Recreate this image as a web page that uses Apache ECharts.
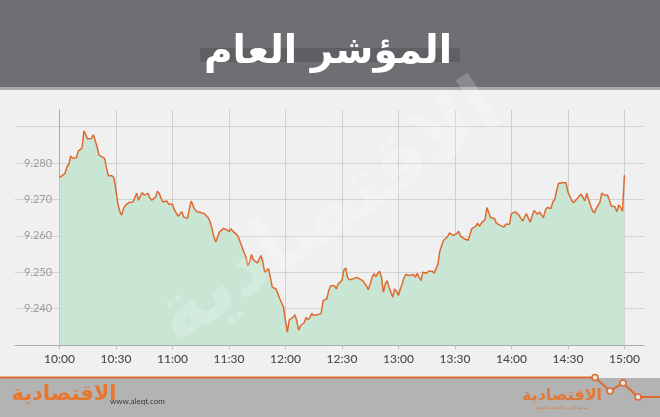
<!DOCTYPE html>
<html><head><meta charset="utf-8">
<script src="https://cdn.jsdelivr.net/npm/echarts@6/dist/echarts.min.js"></script>
<style>html,body{margin:0;padding:0;background:#f0f0f0}#c{width:660px;height:417px}</style>
</head><body><div id="c"></div>
<script>
// minutes after 10:00
const minutes = [0,1,3,4,5,6,7,9,10,11,12,13,14,15,16,17,18,19,20,21,22,24,25,26,27,28,29,30,31,32,33,34,35,36,37,39,40,41,42,43,44,45,46,47,48,49,51,52,53,54,55,57,58,59,60,61,63,64,65,66,67,68,69,70,71,72,73,75,76,77,78,79,80,81,82,83,84,85,87,88,89,90,91,92,93,94,95,96,97,98,99,100,101,102,103,105,106,107,108,109,110,111,112,113,115,116,117,118,119,120,121,122,123,124,125,126,127,128,129,130,131,132,133,134,135,136,137,139,140,141,142,143,144,145,146,147,148,149,150,151,152,153,154,155,156,158,159,161,162,163,164,165,166,167,168,169,170,171,172,173,174,175,176,177,178,179,180,181,182,183,184,185,186,188,189,190,191,192,193,194,195,196,197,198,199,200,201,202,203,204,205,206,207,208,209,210,211,212,213,214,215,216,217,218,219,220,221,222,223,224,225,226,227,228,229,230,231,232,233,234,236,237,238,239,240,241,242,243,244,245,246,247,248,249,250,251,252,253,254,255,256,257,258,259,260,261,262,263,264,265,266,267,268,269,270,271,272,273,274,275,276,277,278,279,280,281,282,283,284,285,286,287,288,289,290,291,292,293,294,295,296,297,298,299,300];
const values = [9.2760,9.2762,9.2772,9.2790,9.2797,9.2820,9.2813,9.2815,9.2833,9.2833,9.2841,9.2889,9.2878,9.2866,9.2864,9.2868,9.2878,9.2873,9.2845,9.2822,9.2818,9.2813,9.2786,9.2765,9.2762,9.2765,9.2758,9.2726,9.2689,9.2668,9.2657,9.2675,9.2684,9.2682,9.2692,9.2693,9.2695,9.2717,9.2698,9.2710,9.2719,9.2712,9.2710,9.2717,9.2704,9.2698,9.2706,9.2723,9.2717,9.2703,9.2693,9.2696,9.2687,9.2691,9.2687,9.2672,9.2654,9.2657,9.2666,9.2652,9.2650,9.2648,9.2675,9.2696,9.2682,9.2672,9.2666,9.2664,9.2669,9.2661,9.2657,9.2650,9.2638,9.2620,9.2597,9.2583,9.2597,9.2611,9.2620,9.2623,9.2617,9.2611,9.2620,9.2613,9.2615,9.2604,9.2597,9.2583,9.2569,9.2555,9.2542,9.2518,9.2528,9.2549,9.2534,9.2525,9.2528,9.2546,9.2528,9.2500,9.2496,9.2510,9.2486,9.2459,9.2454,9.2441,9.2427,9.2422,9.2404,9.2367,9.2335,9.2369,9.2367,9.2376,9.2383,9.2367,9.2341,9.2353,9.2358,9.2362,9.2376,9.2369,9.2376,9.2387,9.2381,9.2385,9.2383,9.2387,9.2422,9.2424,9.2427,9.2450,9.2463,9.2461,9.2463,9.2454,9.2468,9.2470,9.2477,9.2505,9.2512,9.2486,9.2479,9.2477,9.2482,9.2486,9.2486,9.2477,9.2473,9.2463,9.2452,9.2468,9.2486,9.2496,9.2488,9.2496,9.2503,9.2486,9.2445,9.2468,9.2477,9.2459,9.2445,9.2431,9.2454,9.2448,9.2436,9.2454,9.2468,9.2486,9.2494,9.2491,9.2491,9.2494,9.2486,9.2497,9.2486,9.2477,9.2500,9.2503,9.2497,9.2503,9.2500,9.2503,9.2497,9.2500,9.2523,9.2558,9.2574,9.2588,9.2583,9.2597,9.2608,9.2606,9.2601,9.2599,9.2606,9.2613,9.2599,9.2601,9.2592,9.2592,9.2588,9.2586,9.2620,9.2623,9.2626,9.2635,9.2626,9.2635,9.2635,9.2645,9.2678,9.2663,9.2650,9.2648,9.2648,9.2635,9.2634,9.2629,9.2624,9.2632,9.2635,9.2632,9.2661,9.2657,9.2666,9.2663,9.2657,9.2648,9.2641,9.2652,9.2661,9.2648,9.2638,9.2654,9.2670,9.2666,9.2659,9.2666,9.2657,9.2650,9.2670,9.2678,9.2680,9.2675,9.2693,9.2700,9.2724,9.2744,9.2742,9.2746,9.2751,9.2746,9.2721,9.2709,9.2698,9.2691,9.2696,9.2703,9.2709,9.2715,9.2715,9.2696,9.2717,9.2700,9.2684,9.2670,9.2663,9.2675,9.2684,9.2693,9.2718,9.2712,9.2715,9.2712,9.2698,9.2682,9.2678,9.2680,9.2666,9.2685,9.2678,9.2668,9.2767];
const xTickMinutes = [0,30,60,90,120,150,180,210,240,270,300];
const xTickLabels = ['10:00','10:30','11:00','11:30','12:00','12:30','13:00','13:30','14:00','14:30','15:00'];
const yTickValues = [9.23,9.24,9.25,9.26,9.27,9.28,9.29];
const yLabelValues = [9.24,9.25,9.26,9.27,9.28];
const titleText = 'المؤشر العام';
const logoText = 'الاقتصادية';
const siteText = 'www.aleqt.com';
const logoSubText = 'صحيفة العرب الاقتصادية الدولية';

const chart = echarts.init(document.getElementById('c'), null, {renderer: 'canvas'});
const seriesData = minutes.map((m, i) => [m, values[i]]);
const labelMap = {};
xTickMinutes.forEach((m, i) => labelMap[m] = xTickLabels[i]);
const orange = '#df6a30';
const arabicFont = '"DejaVu Sans", "Noto Sans", sans-serif';

chart.setOption({
  backgroundColor: '#f0f0f0',
  animation: false,
  grid: {left: 15, right: 16, top: 110, bottom: 72, containLabel: false},
  xAxis: {
    type: 'value', min: -23.6, max: 310.4,
    axisLine: {show: true, lineStyle: {color: '#aaaaaa', width: 1}},
    axisTick: {show: true, length: 4, customValues: xTickMinutes, lineStyle: {color: '#bbbbbb'}},
    axisLabel: {customValues: xTickMinutes, formatter: v => labelMap[Math.round(v)] || '', color: '#4a4a4a', fontSize: 12, fontFamily: 'Lato', fontWeight: 500, margin: 8},
    splitLine: {show: true, lineStyle: {color: '#cfcfcf', width: 1}}
  },
  yAxis: {
    type: 'value', min: 9.23, max: 9.2946,
    axisLine: {show: true, lineStyle: {color: '#aaaaaa', width: 1}},
    axisTick: {show: false, customValues: yTickValues},
    axisLabel: {inside: true, customValues: yLabelValues, formatter: v => v.toFixed(3), color: '#9c9c9c', fontSize: 11, fontFamily: 'Lato', margin: 9, padding: [0,0,9,0]},
    splitLine: {show: true, lineStyle: {color: '#d2d2d2', width: 1}}
  },
  series: [{
    type: 'line', data: seriesData, showSymbol: false, symbol: 'none',
    lineStyle: {color: orange, width: 1.5},
    areaStyle: {color: '#c9e6d5', opacity: 1},
    z: 3
  }],
  graphic: [
    {type: 'rect', shape: {x: 0, y: 0, width: 660, height: 88}, style: {fill: '#6e6f73'}, z: 0},
    {type: 'rect', shape: {x: 0, y: 87, width: 660, height: 3}, style: {fill: '#a9a9a9'}, z: 0},
    {type: 'rect', shape: {x: 200, y: 48, width: 260, height: 14}, style: {fill: '#5f6064'}, z: 1},
    {type: 'text', x: 328, y: 53, style: {text: titleText, fill: '#ffffff', font: 'bold 39px ' + arabicFont, textAlign: 'center', textVerticalAlign: 'middle'}, z: 2},
    {type: 'rect', shape: {x: 0, y: 378, width: 660, height: 39}, style: {fill: '#b3b3b3'}, z: 0},
    {type: 'polyline', shape: {points: [[0,377.5],[595,377.5],[610,391],[623,383],[638,397],[660,397]]}, style: {stroke: orange, lineWidth: 2, fill: null}, z: 2},
    {type: 'circle', shape: {cx: 595, cy: 377.5, r: 3}, style: {fill: '#e6e6e6', stroke: orange, lineWidth: 1.5}, z: 3},
    {type: 'circle', shape: {cx: 610, cy: 391, r: 3}, style: {fill: '#e6e6e6', stroke: orange, lineWidth: 1.5}, z: 3},
    {type: 'circle', shape: {cx: 623, cy: 383, r: 3}, style: {fill: '#e6e6e6', stroke: orange, lineWidth: 1.5}, z: 3},
    {type: 'circle', shape: {cx: 638, cy: 397, r: 3}, style: {fill: '#e6e6e6', stroke: orange, lineWidth: 1.5}, z: 3},
    {type: 'text', x: 110, y: 401, style: {text: siteText, fill: '#3a3a3a', font: '8px Lato', textAlign: 'left', textVerticalAlign: 'middle'}, z: 2},
    {type: 'text', x: 64, y: 395, style: {text: logoText, fill: '#e8772e', font: 'bold 21px ' + arabicFont, textAlign: 'center', textVerticalAlign: 'middle'}, z: 3},
    {type: 'text', x: 562, y: 396, style: {text: logoText, fill: '#e07a3a', font: 'bold 16px ' + arabicFont, textAlign: 'center', textVerticalAlign: 'middle'}, z: 3},
    {type: 'text', x: 562, y: 408, style: {text: logoSubText, fill: '#e07a3a', font: '4px ' + arabicFont, textAlign: 'center', textVerticalAlign: 'middle'}, z: 3},
    {type: 'text', x: 330, y: 215, rotation: 0.6, style: {text: logoText, fill: 'rgba(255,255,255,0.2)', font: 'bold 80px ' + arabicFont, textAlign: 'center', textVerticalAlign: 'middle'}, z: 100}
  ]
});
</script></body></html>
